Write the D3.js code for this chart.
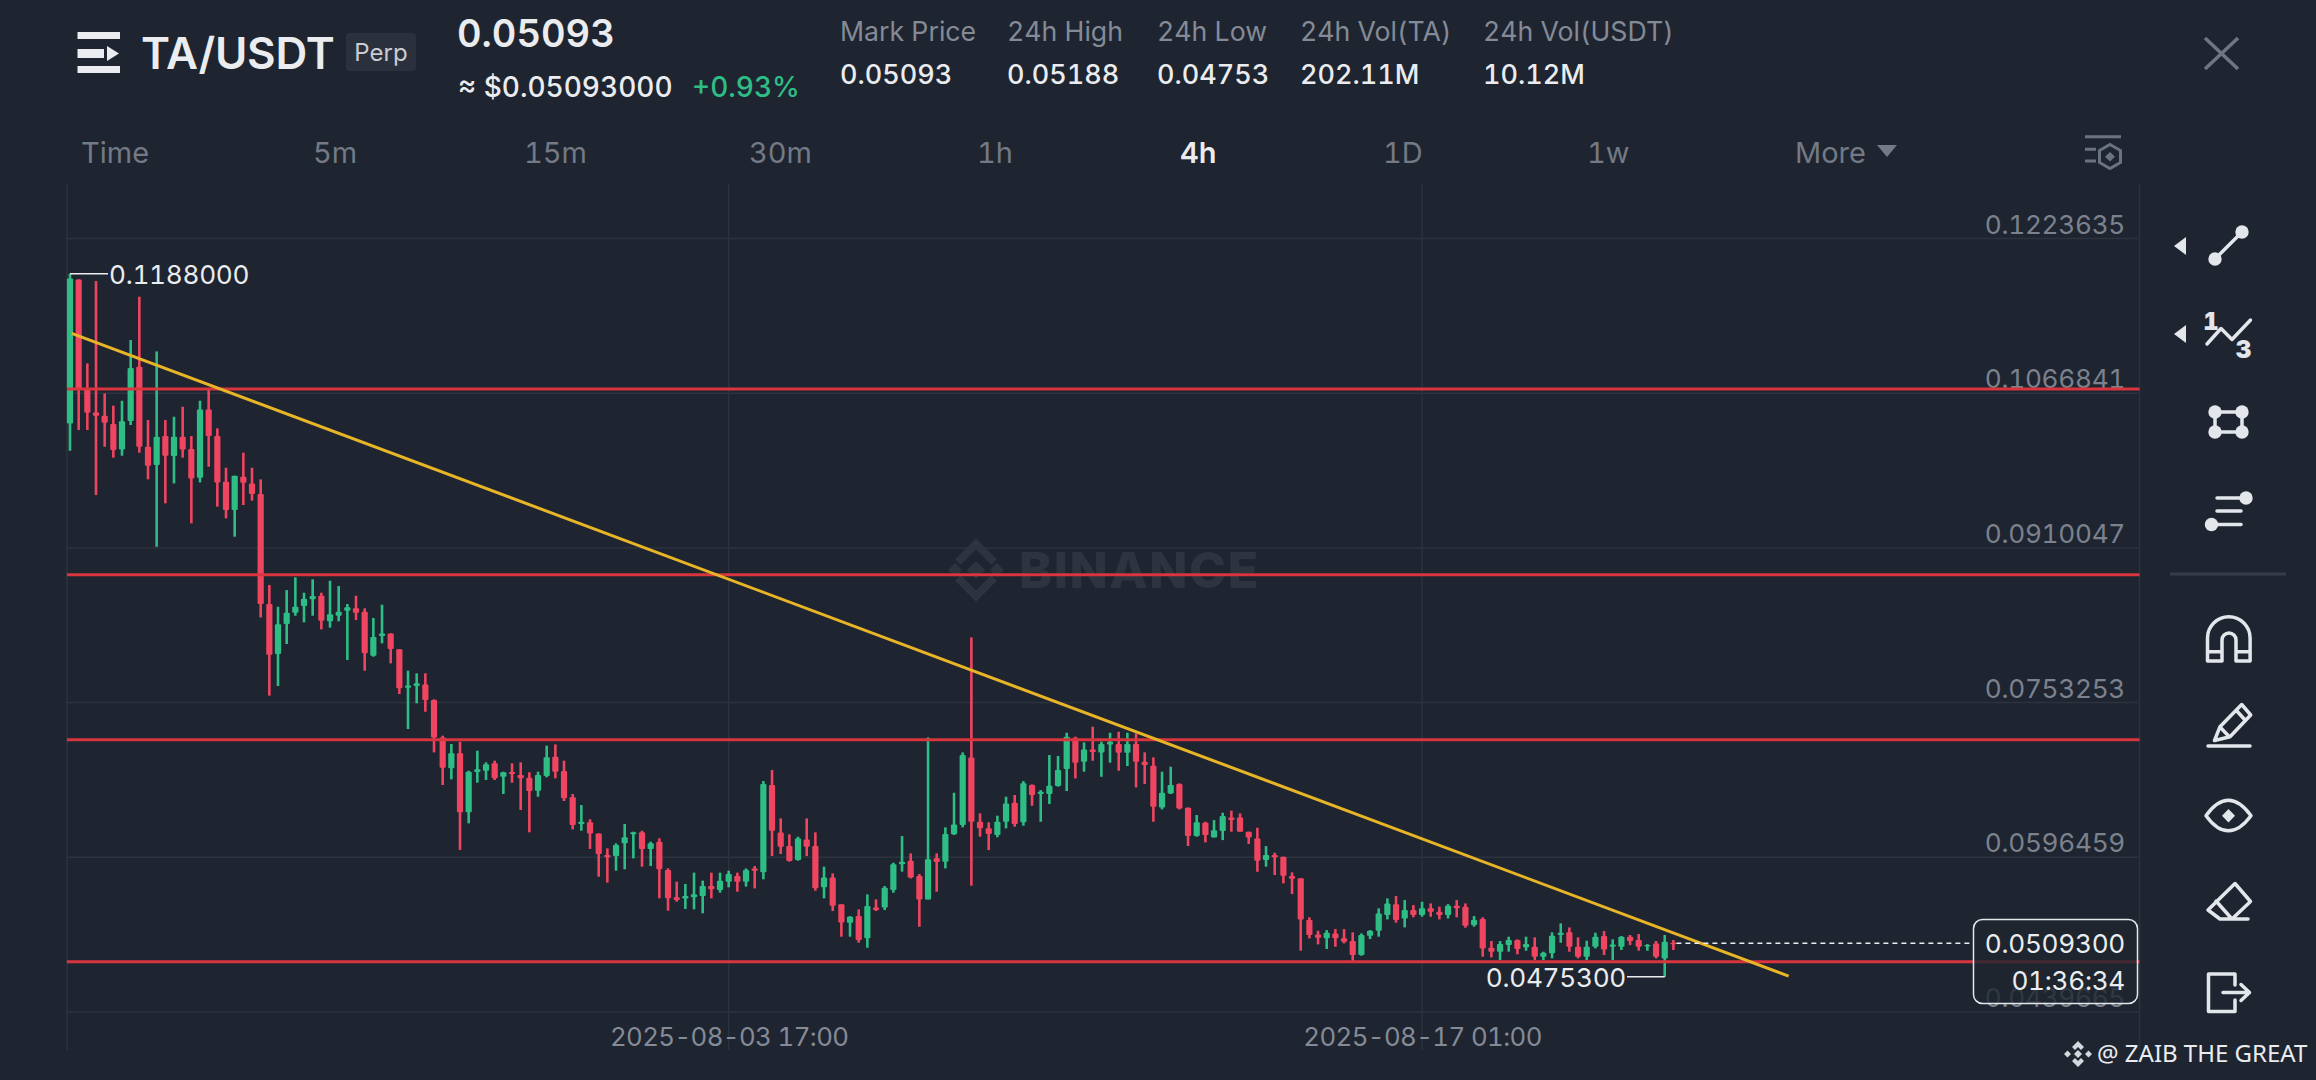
<!DOCTYPE html>
<html>
<head>
<meta charset="utf-8">
<title>TA/USDT Perp</title>
<script src="https://cdn.jsdelivr.net/npm/d3@7"></script>
<style>
html,body{margin:0;padding:0;background:#1e2530;overflow:hidden}
svg{display:block}
text{font-family:Inter,"Noto Sans",sans-serif;font-variant-numeric:tabular-nums;font-feature-settings:"tnum" 1}
</style>
</head>
<body>
<svg id="chart" width="2316" height="1080"></svg>
<script>
// ---------- data ----------
const opens=[.10362,.11822,.10707,.10474,.10440,.10356,.10099,.10386,.10937,.10126,
.09940,.10234,.10031,.10227,.10102,.09812,.10504,.10234,.09771,.09484,
.09822,.09754,.09646,.08532,.08025,.08329,.08444,.08511,.08579,.08616,
.08356,.08413,.08464,.08488,.08454,.08008,.08207,.08234,.08072,.07684,
.07701,.07717,.07559,.07180,.06866,.07018,.06420,.06829,.06842,.06917,
.06782,.06829,.06799,.06772,.06640,.06788,.06984,.06839,.06572,.06302,
.06319,.06207,.05988,.05978,.06106,.06197,.06218,.06049,.06123,.05836,
.05559,.05546,.05559,.05572,.05674,.05633,.05718,.05775,.05717,.05852,
.05812,.06697,.06217,.06079,.05937,.06146,.06079,.05660,.05761,.05488,
.05302,.05369,.05143,.05457,.05457,.05633,.05893,.05930,.05775,.05538,
.05954,.05920,.06197,.06292,.06977,.06325,.06258,.06190,.06325,.06518,
.06319,.06697,.06606,.06606,.06687,.06859,.07177,.06933,.07058,.07028,
.07109,.07112,.07025,.07112,.06933,.06893,.06470,.06612,.06707,.06467,
.06180,.06315,.06166,.06230,.06369,.06369,.06224,.06156,.05937,.05987,
.05970,.05774,.05751,.05329,.05183,.05143,.05193,.05143,.05116,.04974,
.05170,.05220,.05379,.05490,.05345,.05430,.05379,.05447,.05413,.05379,
.05474,.05464,.05278,.05339,.05048,.05008,.05075,.05126,.05052,.05058,
.04957,.04991,.05177,.05204,.05058,.04957,.05058,.05166,.05058,.05058,
.05160,.05126,.05065,.05092,.04940,.05099];
const highs=[.11880,.11822,.10970,.11805,.10666,.10542,.10592,.11207,.11646,.10396,
.11092,.10396,.10430,.10531,.10234,.10592,.10717,.10312,.09913,.09832,
.10065,.09913,.09795,.08724,.08504,.08673,.08802,.08646,.08782,.08646,
.08768,.08714,.08532,.08616,.08488,.08390,.08525,.08234,.08072,.07856,
.07829,.07829,.07566,.07197,.07113,.07136,.06842,.07045,.06927,.06944,
.06832,.06917,.06927,.06826,.06832,.07096,.07109,.06944,.06606,.06494,
.06350,.06207,.06055,.06106,.06302,.06224,.06234,.06123,.06157,.05853,
.05718,.05694,.05809,.05728,.05809,.05809,.05829,.05809,.05852,.05876,
.06737,.06849,.06359,.06197,.06173,.06359,.06217,.05869,.05802,.05488,
.05369,.05437,.05589,.05538,.05673,.05910,.06180,.06004,.05795,.07180,
.06004,.06268,.06619,.07028,.08193,.06410,.06319,.06386,.06579,.06596,
.06737,.06704,.06646,.07001,.06991,.07227,.07187,.07129,.07288,.07136,
.07227,.07237,.07227,.07220,.07028,.06977,.06832,.06883,.06714,.06470,
.06393,.06325,.06342,.06416,.06437,.06410,.06224,.06264,.06078,.06011,
.05970,.05812,.05751,.05356,.05220,.05227,.05237,.05237,.05204,.05193,
.05227,.05447,.05548,.05572,.05531,.05480,.05514,.05497,.05464,.05490,
.05531,.05497,.05369,.05356,.05116,.05116,.05160,.05133,.05160,.05153,
.05008,.05204,.05295,.05254,.05153,.05119,.05200,.05217,.05133,.05166,
.05177,.05187,.05085,.05116,.05177,.05126];
const lows=[.10085,.10295,.10295,.09636,.10126,.10015,.10035,.10346,.10065,.09795,
.09112,.09552,.09754,.10015,.09349,.09764,.09923,.09518,.09400,.09214,
.09535,.09579,.08396,.07603,.07701,.08126,.08413,.08346,.08413,.08275,
.08292,.08356,.07964,.08369,.07856,.07998,.08133,.07930,.07620,.07265,
.07525,.07440,.07028,.06697,.06755,.06039,.06309,.06721,.06748,.06748,
.06606,.06721,.06444,.06218,.06579,.06775,.06765,.06535,.06248,.06234,
.06049,.05768,.05708,.05829,.05843,.05954,.05869,.05876,.05549,.05424,
.05515,.05441,.05437,.05397,.05549,.05606,.05660,.05616,.05667,.05649,
.05741,.05977,.05998,.05920,.05930,.05977,.05626,.05548,.05420,.05160,
.05160,.05099,.05048,.05420,.05430,.05606,.05819,.05751,.05261,.05538,
.05616,.05852,.06190,.06268,.05677,.06173,.06038,.06167,.06258,.06275,
.06285,.06487,.06325,.06504,.06680,.06636,.06764,.06832,.06943,.06781,
.06923,.06842,.06889,.06673,.06707,.06325,.06450,.06606,.06450,.06079,
.06173,.06116,.06167,.06139,.06224,.06224,.06099,.05818,.05869,.05785,
.05700,.05592,.05018,.05143,.05082,.05035,.05058,.05092,.04896,.04967,
.05136,.05160,.05335,.05302,.05254,.05356,.05362,.05362,.05335,.05345,
.05356,.05251,.05261,.04957,.04950,.04923,.05008,.04981,.05018,.04923,
.04923,.04940,.05099,.05008,.04940,.04923,.05041,.04974,.04923,.05025,
.05075,.05018,.05018,.04940,.04753,.05025];
const closes=[.11832,.10717,.10471,.10440,.10369,.10092,.10383,.10923,.10126,.09933,
.10227,.10035,.10227,.10099,.09805,.10504,.10234,.09764,.09484,.09832,
.09761,.09646,.08532,.08018,.08326,.08444,.08504,.08586,.08613,.08363,
.08427,.08454,.08498,.08444,.08032,.08197,.08234,.08076,.07677,.07707,
.07728,.07559,.07180,.06873,.07018,.06420,.06832,.06856,.06907,.06765,
.06826,.06809,.06765,.06636,.06799,.06978,.06832,.06562,.06292,.06325,
.06207,.05998,.05964,.06089,.06167,.06218,.06049,.06106,.05843,.05549,
.05532,.05572,.05590,.05674,.05640,.05728,.05795,.05718,.05835,.05829,
.06707,.06234,.06072,.05927,.06156,.06072,.05650,.05761,.05474,.05305,
.05362,.05126,.05471,.05430,.05656,.05893,.05920,.05761,.05538,.05944,
.05917,.06200,.06298,.07001,.06325,.06258,.06200,.06325,.06511,.06302,
.06714,.06596,.06629,.06690,.06849,.07187,.06923,.07058,.07031,.07112,
.07136,.07025,.07112,.06933,.06899,.06477,.06619,.06697,.06460,.06180,
.06319,.06190,.06240,.06382,.06342,.06224,.06166,.05930,.05987,.05964,
.05778,.05747,.05335,.05177,.05149,.05200,.05143,.05109,.04974,.05177,
.05220,.05396,.05497,.05329,.05430,.05379,.05447,.05413,.05379,.05474,
.05447,.05271,.05329,.05041,.05008,.05085,.05126,.05035,.05085,.04957,
.04997,.05170,.05200,.05058,.04957,.05058,.05160,.05031,.05082,.05160,
.05116,.05058,.05075,.04957,.05109,.05093];

const priceTicks=[0.1223635,0.1066841,0.0910047,0.0753253,0.0596459,0.0439665];
const timeTickIndex=[76,156];
const timeTickLabels=["2025-08-03 17:00","2025-08-17 01:00"];
const supportLevels=[0.1071,0.08828,0.07156,0.04906];
const trendIndex=[0.2,198.3];
const trendPrice=[0.11275,0.04761];
const lastPrice=0.05093, maxPrice=0.1188, minPrice=0.04753;
const tabs=["Time","5m","15m","30m","1h","4h","1D","1w","More"];
const statLabels=["Mark Price","24h High","24h Low","24h Vol(TA)","24h Vol(USDT)"];
const statValues=["0.05093","0.05188","0.04753","202.11M","10.12M"];

// ---------- scales ----------
const svg=d3.select("#chart");
const W=2316,H=1080,L=67,R=2139.5,T=184,B=1050;
const y=d3.scaleLinear().domain([priceTicks[0],priceTicks[5]]).range([238.5,1012]);
const x=d3.scaleLinear().domain([0,185]).range([70,70+185*8.667]);
const fmt=d3.format(".7f");
const BG="#1e2530",UP="#2ebd85",DOWN="#ef4560",LINE="#d8353f",GOLD="#e8b428",
      GRID="#2c323e",DIM="#7b818d",WHITE="#eaecef",AXIS="#848a96";
const NUM=26.2, NUMSP=-.3;

svg.append("rect").attr("width",W).attr("height",H).attr("fill",BG);

// ---------- grid ----------
const grid=svg.append("g").attr("stroke",GRID).attr("stroke-width",1.5);
grid.selectAll(".h").data(priceTicks).join("line").attr("x1",L).attr("x2",R)
  .attr("y1",d=>y(d)).attr("y2",d=>y(d));
grid.selectAll(".v").data(timeTickIndex).join("line").attr("x1",d=>x(d)).attr("x2",d=>x(d))
  .attr("y1",T).attr("y2",B);
grid.append("line").attr("x1",L).attr("x2",L).attr("y1",T).attr("y2",B);
grid.append("line").attr("x1",R).attr("x2",R).attr("y1",T).attr("y2",B);

// ---------- watermark ----------
const wm=svg.append("g").attr("fill","#2d3440");
wm.append("text").attr("x",1019).attr("y",588).attr("font-size",50).attr("font-weight",800)
  .attr("letter-spacing",1.5).text("BINANCE");
wm.append("path").attr("fill","none").attr("stroke","#2d3440").attr("stroke-width",8)
  .attr("d","M958 562 L976 544 L994 562 M958 578 L976 596 L994 578");
wm.append("path").attr("d","M976 561 L985 570 L976 579 L967 570 Z M948 570 L955 563 L962 570 L955 577 Z M990 570 L997 563 L1004 570 L997 577 Z");

// ---------- candles ----------
const candles=opens.map((o,i)=>({i,o,h:highs[i],l:lows[i],c:closes[i]}));
const cg=svg.append("g");
cg.selectAll("line").data(candles).join("line")
  .attr("x1",d=>x(d.i)).attr("x2",d=>x(d.i))
  .attr("y1",d=>y(d.h)).attr("y2",d=>y(d.l))
  .attr("stroke",d=>d.c>=d.o?UP:DOWN).attr("stroke-width",2.6);
cg.selectAll("rect").data(candles).join("rect")
  .attr("x",d=>x(d.i)-3.1).attr("width",6.2)
  .attr("y",d=>y(Math.max(d.o,d.c))).attr("height",d=>Math.max(1.5,Math.abs(y(d.o)-y(d.c))))
  .attr("rx",1).attr("fill",d=>d.c>=d.o?UP:DOWN);

// ---------- y axis labels ----------
const yAxis=svg.append("g").attr("transform",`translate(2125,0)`)
  .call(d3.axisRight(y).tickValues(priceTicks).tickSize(0).tickFormat(fmt));
yAxis.select(".domain").remove();
yAxis.selectAll("text").attr("x",0).attr("dy",0).attr("dx",0)
  .attr("y",-5.5).attr("text-anchor","end").attr("fill",DIM).attr("font-size",NUM).attr("letter-spacing",NUMSP);

// ---------- x axis labels ----------
const xAxis=svg.append("g").attr("transform",`translate(0,1046)`)
  .call(d3.axisBottom(x).tickValues(timeTickIndex).tickSize(0).tickFormat((d,i)=>timeTickLabels[i]));
xAxis.select(".domain").remove();
xAxis.selectAll("text").attr("y",0).attr("dy",0).attr("fill",AXIS).attr("font-size",25.8).attr("letter-spacing",-.6);

// ---------- drawn levels and trend line ----------
svg.append("g").selectAll("line").data(supportLevels).join("line")
  .attr("x1",L).attr("x2",R).attr("y1",d=>y(d)).attr("y2",d=>y(d))
  .attr("stroke",LINE).attr("stroke-width",3);
svg.append("line").attr("x1",x(trendIndex[0])).attr("y1",y(trendPrice[0]))
  .attr("x2",x(trendIndex[1])).attr("y2",y(trendPrice[1]))
  .attr("stroke",GOLD).attr("stroke-width",3);

// ---------- max / min markers ----------
svg.append("path").attr("fill","none").attr("stroke",WHITE).attr("stroke-width",1.5)
  .attr("d",`M${x(0)} ${y(maxPrice)} H108`);
svg.append("text").attr("x",109).attr("y",y(maxPrice)+10).attr("font-size",NUM).attr("letter-spacing",NUMSP).attr("fill",WHITE).text(fmt(maxPrice));
svg.append("path").attr("fill","none").attr("stroke",WHITE).attr("stroke-width",1.5)
  .attr("d",`M1627 ${y(minPrice)} H${x(184)}`);
svg.append("text").attr("x",1626).attr("y",y(minPrice)+10).attr("text-anchor","end").attr("font-size",NUM).attr("letter-spacing",NUMSP).attr("fill",WHITE).text(fmt(minPrice));

// ---------- last price ----------
svg.append("line").attr("x1",x(185)+3).attr("x2",1973).attr("y1",y(lastPrice)).attr("y2",y(lastPrice))
  .attr("stroke",WHITE).attr("stroke-width",1.5).attr("stroke-dasharray","5 4");
svg.append("rect").attr("x",1973.5).attr("y",919.5).attr("width",164).attr("height",84).attr("rx",9)
  .attr("fill",BG).attr("fill-opacity",.8).attr("stroke","#e4e6ea").attr("stroke-width",1.5);
svg.append("text").attr("x",2125).attr("y",953).attr("text-anchor","end").attr("font-size",NUM).attr("letter-spacing",NUMSP).attr("fill",WHITE).text(fmt(lastPrice));
svg.append("text").attr("x",2125).attr("y",990).attr("text-anchor","end").attr("font-size",NUM).attr("letter-spacing",NUMSP).attr("fill",WHITE).text("01:36:34");

// ---------- header ----------
const head=svg.append("g");
head.append("path").attr("fill",WHITE).attr("d","M77.5 32H120V39H77.5Z M77.5 49H104V58H77.5Z M107 46L119 53.5L107 61Z M77.5 66H120V73H77.5Z");
head.append("text").attr("x",141).attr("y",69).attr("font-size",44).attr("font-weight",600).attr("fill",WHITE).attr("letter-spacing",-.2).text("TA/USDT");
head.append("rect").attr("x",346).attr("y",33).attr("width",70).attr("height",38).attr("rx",4).attr("fill","#2b313c");
head.append("text").attr("x",381).attr("y",61).attr("text-anchor","middle").attr("font-size",24).attr("fill","#c9ccd2").text("Perp");
head.append("text").attr("x",457).attr("y",47).attr("font-size",38).attr("font-weight",600).attr("fill",WHITE).text("0.05093");
head.append("text").attr("x",458).attr("y",97).attr("font-size",28).attr("font-weight",500).attr("fill",WHITE).text("≈ $0.05093000");
head.append("text").attr("x",692).attr("y",97).attr("font-size",28).attr("font-weight",500).attr("fill",UP).text("+0.93%");
const statX=[840,1007,1157,1300,1483];
head.selectAll(".sl").data(statLabels).join("text").attr("x",(d,i)=>statX[i]).attr("y",41)
  .attr("font-size",26.7).attr("fill",AXIS).text(d=>d);
head.selectAll(".sv").data(statValues).join("text").attr("x",(d,i)=>statX[i]).attr("y",84)
  .attr("font-size",27).attr("font-weight",500).attr("fill",WHITE).text(d=>d);
head.append("path").attr("stroke","#6f7682").attr("stroke-width",3.5).attr("fill","none").attr("d","M2205 38L2238 69M2238 38L2205 69");

// ---------- interval tabs ----------
const tabX=[81,313,524,749,977,1180,1383,1587,1795];
svg.append("g").selectAll("text").data(tabs).join("text").attr("x",(d,i)=>tabX[i]).attr("y",163)
  .attr("font-size",29).attr("font-weight",d=>d==="4h"?600:400)
  .attr("fill",d=>d==="4h"?WHITE:"#737985").text(d=>d);
svg.append("path").attr("fill","#737985").attr("d","M1877 145H1897L1887 157Z");
const setIcon=svg.append("g").attr("stroke","#6c7380").attr("stroke-width",3).attr("fill","none");
setIcon.append("path").attr("d","M2085 136.7H2121 M2085 149.3H2096 M2085 161H2096");
setIcon.append("path").attr("d","M2110 144.5L2120.5 150.5V162.5L2110 168.5L2099.5 162.5V150.5Z");
setIcon.append("path").attr("fill","#6c7380").attr("stroke","none").attr("d","M2110 152L2115 156.7L2110 161.4L2105 156.7Z");

// ---------- right tool bar ----------
const ICON="#e3e6eb";
const bar=svg.append("g").attr("stroke",ICON).attr("fill","none").attr("stroke-width",3.5).attr("stroke-linecap","round").attr("stroke-linejoin","round");
const dots=(pts,r)=>pts.forEach(p=>bar.append("circle").attr("cx",p[0]).attr("cy",p[1]).attr("r",r).attr("fill",ICON).attr("stroke","none"));
const tri=yy=>bar.append("path").attr("fill",ICON).attr("stroke","none").attr("d",`M2174 ${yy}L2186 ${yy-9}V${yy+9}Z`);
tri(246);tri(334);
bar.append("path").attr("d","M2215 259L2242 232");dots([[2242,232],[2215,259]],6.7);
bar.append("path").attr("d","M2207 344L2221 328.5L2232 339.5L2250.5 320");
bar.append("text").attr("x",2211).attr("y",330).attr("text-anchor","middle").attr("font-size",24).attr("font-weight",900).attr("fill",ICON).attr("stroke","none").text("1");
bar.append("text").attr("x",2243.5).attr("y",358).attr("text-anchor","middle").attr("font-size",24).attr("font-weight",900).attr("fill",ICON).attr("stroke","none").text("3");
bar.append("path").attr("d","M2215 412H2242V432H2215Z");dots([[2215,412],[2242,412],[2215,432],[2242,432]],6.7);
bar.append("path").attr("d","M2217 498H2240 M2217 511H2241 M2217 524.5H2241");dots([[2246,498],[2211.5,524.5]],6.7);
svg.append("line").attr("x1",2170).attr("x2",2286).attr("y1",574).attr("y2",574).attr("stroke","#363c48").attr("stroke-width",3);
bar.append("path").attr("d","M2207.5 661V638a21.3 21.3 0 0 1 42.6 0V661H2236V640a7 7 0 0 0-14 0V661Z M2207.5 651.7H2222 M2236 651.7H2250");
bar.append("path").attr("d","M2214.5 740.5L2220 726.7L2241.7 704.5L2250.7 715L2230 736.7Z M2236 710L2245 720 M2220 727L2229 736.5 M2208 746H2250");
bar.append("path").attr("d","M2206 815.7Q2228.3 785 2251 815.7Q2228.3 846 2206 815.7Z");
bar.append("path").attr("fill",ICON).attr("stroke","none").attr("d","M2228.5 809L2235 815.7L2228.5 822.4L2222 815.7Z");
bar.append("path").attr("d","M2235 883.5L2250.5 901.5L2232 919H2220L2208 910Z M2216 901L2232 919 M2232 919H2248");
bar.append("path").attr("d","M2235 985V974H2208.5V1011.5H2235V1000 M2223 992.5H2249 M2241 984.5L2249.5 992.5L2241 1000.5");

// ---------- signature ----------
svg.append("path").attr("fill","#d5d8dd").attr("d","M2078 1041L2084 1047L2081 1050L2078 1047L2075 1050L2072 1047Z M2078 1050L2082 1054L2078 1058L2074 1054Z M2064 1054L2067.5 1050.5L2071 1054L2067.5 1057.5Z M2085 1054L2088.5 1050.5L2092 1054L2088.5 1057.5Z M2072 1061L2075 1058L2078 1061L2081 1058L2084 1061L2078 1067Z");
svg.append("text").attr("x",2097).attr("y",1062).style("font-family","'Noto Sans'").attr("font-size",24)
  .attr("fill",WHITE).text("@ ZAIB THE GREAT");
</script>
</body>
</html>
